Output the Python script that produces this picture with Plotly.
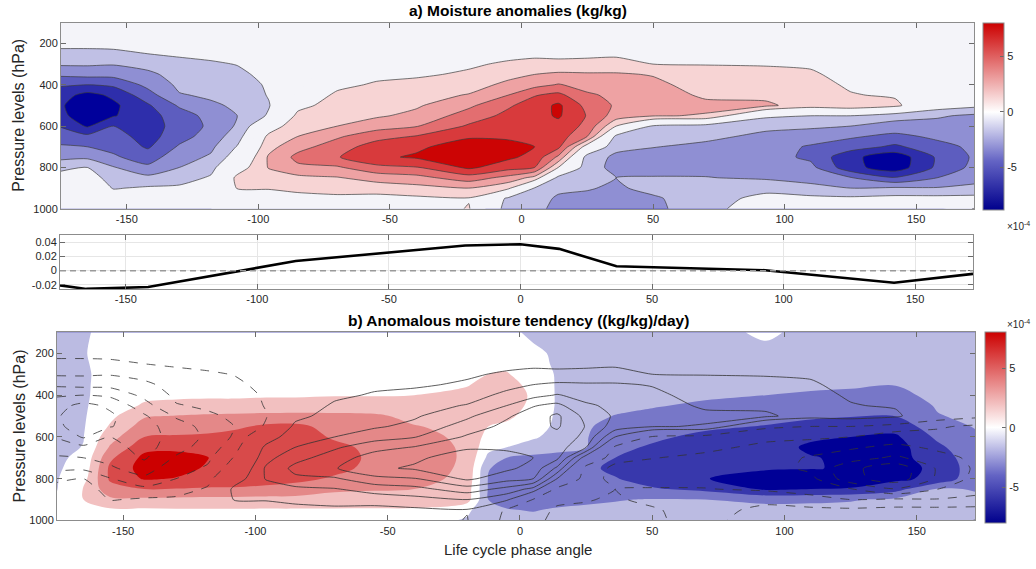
import plotly.graph_objects as go

W, H = 1036, 569

# ---------------- data ----------------
PRESSURE = [100, 200, 250, 300, 350, 400, 450, 500, 550, 600, 650, 700, 750, 800, 850, 900, 950, 1000]

# (a) moisture anomaly, units 1e-4 kg/kg; one column (profile over PRESSURE) per phase angle
PHASE_A = [-175, -165, -155, -142, -130, -118, -108, -96, -85, -70, -55, -40, -20, -5, 5, 14, 25, 36, 50, 70, 93, 110, 125, 142, 158, 172]
qa_m175 = [-0.3, -1.1, -1.9, -2.8, -4.2, -5.8, -6.9, -7.3, -7.1, -6.1, -5.3, -4.3, -3.4, -1.9, -0.8, -0.2, 0.0, -0.6]
qa_m165 = [-0.3, -1.1, -1.9, -2.8, -4.0, -6.0, -8.0, -8.7, -8.5, -7.7, -5.6, -4.5, -3.3, -1.5, -0.7, -0.2, 0.0, -0.5]
qa_m155 = [-0.3, -1.1, -1.8, -2.9, -4.0, -5.7, -7.2, -7.8, -7.6, -6.0, -5.4, -4.9, -4.3, -2.9, -2.2, -1.6, -0.6, -0.3]
qa_m142 = [-0.2, -0.9, -1.5, -2.4, -3.4, -4.1, -5.1, -6.2, -6.6, -6.7, -6.6, -6.2, -5.2, -4.2, -2.6, -1.3, -0.5, -0.2]
qa_m130 = [-0.2, -0.8, -1.3, -1.9, -2.3, -2.7, -3.1, -4.3, -5.2, -5.4, -5.1, -4.3, -3.6, -3.0, -2.2, -1.2, -0.4, -0.1]
qa_m118 = [-0.1, -0.6, -1.1, -1.7, -2.1, -2.4, -2.8, -3.2, -4.0, -4.2, -3.8, -3.3, -2.8, -2.0, -1.3, -0.8, -0.3, 0.0]
qa_m108 = [0.0, -0.4, -0.9, -1.45, -1.8, -2.2, -2.5, -2.8, -3.0, -2.8, -2.2, -1.4, -0.6, 0.6, 1.9, 1.6, 0.4, 0.1]
qa_m96 = [0.0, -0.2, -0.5, -0.9, -1.1, -1.3, -1.4, -1.6, -1.3, 0.5, 1.9, 2.5, 3.2, 3.1, 2.3, 1.6, 0.8, 0.3]
qa_m85 = [0.0, 0.0, -0.1, -0.3, -0.4, -0.3, 0.2, 1.0, 1.9, 2.6, 3.0, 4.0, 4.9, 4.2, 2.6, 1.8, 1.1, 0.4]
qa_m70 = [0.0, 0.1, 0.2, 0.4, 0.6, 1.1, 1.8, 2.2, 2.6, 3.0, 4.3, 5.2, 5.9, 4.3, 2.9, 2.0, 1.2, 0.5]
qa_m55 = [0.0, 0.2, 0.4, 0.7, 1.1, 1.7, 2.0, 2.4, 2.8, 3.9, 5.4, 6.8, 7.2, 5.6, 3.6, 2.2, 1.0, 0.4]
qa_m40 = [0.0, 0.3, 0.5, 0.9, 1.3, 1.9, 2.4, 2.8, 3.4, 4.4, 6.1, 7.2, 7.7, 5.9, 4.0, 2.5, 1.2, 0.5]
qa_m20 = [0.1, 0.5, 0.9, 1.3, 1.7, 2.3, 3.1, 4.2, 5.2, 6.2, 7.3, 8.3, 8.5, 7.8, 5.3, 3.0, 1.4, 1.6]
qa_m5 = [0.1, 0.6, 1.1, 1.7, 2.5, 3.4, 4.5, 5.8, 6.4, 6.9, 7.3, 7.9, 7.8, 6.6, 4.0, 1.8, -1.8, -2.2]
qa_p5 = [0.1, 0.7, 1.2, 1.9, 3.0, 4.0, 5.9, 6.7, 6.9, 7.0, 7.2, 7.5, 7.0, 6.0, 2.5, -1.6, -2.4, -2.6]
qa_p14 = [0.1, 0.7, 1.2, 1.8, 3.3, 4.6, 6.4, 7.8, 7.7, 7.0, 6.8, 6.4, 4.2, 1.5, -2.0, -2.7, -3.2, -3.4]
qa_p25 = [0.1, 0.7, 1.2, 1.9, 3.2, 4.0, 4.7, 5.5, 5.9, 5.6, 4.5, 0.6, -2.2, -2.4, -2.6, -2.9, -3.3, -3.5]
qa_p36 = [0.1, 0.8, 1.3, 1.9, 3.2, 3.9, 4.2, 4.3, 3.8, 1.5, -1.9, -2.6, -3.3, -3.4, -3.0, -3.2, -3.5, -3.6]
qa_p50 = [0.1, 0.8, 1.3, 1.5, 2.9, 3.4, 3.6, 3.5, 3.1, -1.7, -2.5, -2.95, -3.5, -3.6, -2.9, -2.6, -3.2, -3.4]
qa_p70 = [0.1, 0.8, 1.3, 1.45, 2.0, 2.3, 2.8, 3.3, 2.9, -2.2, -2.7, -3.3, -3.5, -3.4, -2.95, -2.5, -2.2, -2.0]
qa_p93 = [0.1, 0.7, 1.1, 1.4, 1.9, 2.2, 2.6, 3.3, -1.2, -2.7, -3.3, -3.7, -3.9, -3.7, -3.2, -2.0, -1.0, -0.6]
qa_p110 = [0.1, 0.6, 1.0, 1.3, 1.7, 2.0, 2.2, 2.2, -1.5, -2.8, -3.6, -4.7, -4.8, -4.1, -3.5, -2.6, -1.1, -0.5]
qa_p125 = [0.0, 0.3, 0.5, 0.8, 1.0, 1.3, 1.6, 2.6, -1.5, -3.0, -4.3, -5.3, -7.1, -7.0, -4.4, -3.0, -1.2, -0.5]
qa_p142 = [0.0, 0.2, 0.3, 0.5, 0.7, 1.0, 1.3, 1.9, -2.4, -3.6, -4.9, -6.3, -8.5, -8.4, -5.9, -2.8, -1.0, -0.4]
qa_p158 = [0.0, 0.1, 0.2, 0.3, 0.4, 0.5, 0.3, -0.6, -2.8, -3.6, -4.2, -5.0, -5.8, -5.7, -4.5, -2.9, -1.0, -0.3]
qa_p172 = [0.0, 0.1, 0.1, 0.2, 0.3, 0.3, 0.1, -1.1, -3.3, -3.6, -3.9, -4.2, -4.3, -4.1, -3.6, -2.6, -1.0, 1.6]

# (b) anomalous moisture tendency, units 1e-4 (kg/kg)/day
PHASE_B = [-175, -165, -155, -142, -130, -118, -108, -96, -85, -70, -55, -40, -20, -12, -5, 5, 14, 25, 36, 50, 70, 93, 110, 125, 142, 158, 172]
tb_m175 = [-1.8, -1.9, -1.9, -1.8, -1.8, -1.8, -1.8, -1.7, -1.6, -1.5, -1.4, -1.3, -1.2, -1.1, -1.05, -0.8, -0.5, -0.3]
tb_m165 = [-1.2, -1.1, -1.2, -1.3, -1.3, -1.3, -1.25, -1.2, -1.15, -1.05, -0.95, -0.6, -0.3, 0.3, 1.1, 1.0, 0.3, 0.0]
tb_m155 = [-0.5, -0.4, -0.3, -0.3, -0.2, -0.1, 0.1, 0.5, 1.2, 2.2, 3.2, 4.6, 5.4, 5.3, 4.2, 2.6, 0.7, 0.2]
tb_m142 = [-0.2, -0.2, -0.1, 0.0, 0.2, 0.6, 1.2, 2.8, 3.9, 5.0, 6.4, 7.5, 7.8, 7.2, 5.0, 2.6, 0.7, 0.2]
tb_m130 = [-0.1, -0.1, 0.0, 0.1, 0.3, 0.7, 1.4, 3.1, 4.1, 5.2, 6.6, 7.6, 7.6, 6.9, 4.9, 2.5, 0.8, 0.2]
tb_m118 = [-0.1, 0.0, 0.0, 0.1, 0.3, 0.7, 1.6, 3.3, 4.2, 5.4, 6.3, 7.05, 6.8, 6.0, 4.8, 2.4, 0.8, 0.2]
tb_m108 = [0.0, 0.0, 0.0, 0.1, 0.3, 0.7, 1.6, 3.4, 4.6, 5.8, 6.2, 6.3, 6.2, 5.9, 4.8, 2.4, 0.8, 0.2]
tb_m96 = [0.0, 0.0, 0.0, 0.1, 0.3, 0.8, 1.7, 3.5, 5.4, 5.9, 6.1, 6.2, 6.1, 5.7, 4.6, 2.3, 0.8, 0.2]
tb_m85 = [0.0, 0.0, 0.0, 0.1, 0.3, 0.8, 1.7, 3.6, 5.5, 5.8, 6.0, 6.0, 5.9, 5.4, 4.4, 2.3, 0.8, 0.2]
tb_m70 = [0.0, 0.0, 0.0, 0.1, 0.3, 0.9, 1.8, 3.5, 4.3, 4.8, 5.4, 5.6, 5.4, 4.8, 3.4, 2.1, 0.8, 0.2]
tb_m55 = [0.0, 0.0, 0.0, 0.1, 0.3, 0.9, 1.9, 3.3, 3.9, 4.3, 4.6, 4.7, 4.6, 4.2, 3.2, 2.0, 0.8, 0.2]
tb_m40 = [0.0, 0.0, 0.1, 0.2, 0.4, 1.0, 1.8, 2.5, 3.1, 3.6, 4.0, 4.2, 4.1, 3.8, 3.0, 1.9, 0.8, 0.2]
tb_m20 = [0.0, 0.0, 0.2, 0.5, 0.9, 1.4, 1.8, 2.2, 2.5, 2.6, 2.7, 2.7, 2.6, 2.4, 2.0, 1.8, -0.5, -1.3]
tb_m12 = [-0.2, 0.2, 0.5, 1.0, 1.5, 1.8, 1.8, 1.6, 1.0, 0.3, -0.4, -1.5, -2.9, -3.1, -3.1, -3.0, -2.7, -2.2]
tb_m5 = [-0.5, 0.3, 0.7, 1.1, 1.5, 1.7, 1.6, 1.3, 0.7, -0.3, -1.0, -3.0, -3.6, -3.8, -3.8, -3.6, -2.9, -2.3]
tb_p5 = [-1.4, -0.6, -0.3, 0.3, 0.6, 0.8, 0.7, 0.4, 0.1, -0.7, -2.0, -3.4, -3.9, -4.1, -4.0, -3.7, -3.1, -2.5]
tb_p14 = [-1.6, -1.3, -1.3, -1.2, -1.2, -1.2, -1.2, -1.3, -1.5, -1.8, -2.6, -3.4, -3.9, -4.2, -4.1, -3.6, -2.8, -2.2]
tb_p25 = [-1.7, -1.5, -1.5, -1.5, -1.5, -1.6, -1.8, -2.2, -2.8, -2.9, -2.95, -3.5, -4.6, -4.5, -4.0, -3.3, -2.7, -2.2]
tb_p36 = [-1.8, -1.6, -1.6, -1.6, -1.7, -1.9, -2.3, -3.1, -3.6, -4.1, -4.6, -5.0, -5.4, -4.9, -4.0, -3.1, -2.6, -2.2]
tb_p50 = [-1.8, -1.7, -1.7, -1.8, -1.9, -2.2, -2.8, -3.6, -4.2, -4.7, -5.2, -5.8, -6.2, -5.8, -4.8, -2.9, -2.4, -2.1]
tb_p70 = [-1.8, -1.8, -1.8, -1.9, -2.1, -2.6, -3.4, -4.1, -4.7, -5.4, -5.9, -6.3, -6.7, -6.95, -5.5, -3.0, -2.0, -1.6]
tb_p93 = [-0.6, -1.6, -1.9, -2.1, -2.5, -3.0, -3.7, -4.4, -5.1, -5.7, -6.2, -6.5, -6.85, -7.6, -7.3, -3.5, -2.3, -1.6]
tb_p110 = [-1.7, -1.9, -2.0, -2.3, -2.7, -3.2, -3.9, -4.7, -5.6, -6.7, -7.3, -6.9, -6.95, -7.6, -7.0, -3.4, -2.3, -1.7]
tb_p125 = [-1.8, -2.0, -2.1, -2.4, -2.8, -3.3, -4.1, -4.9, -5.9, -7.0, -7.6, -7.3, -7.1, -7.7, -6.9, -3.2, -2.2, -1.7]
tb_p142 = [-1.8, -2.0, -2.2, -2.5, -2.95, -3.5, -4.3, -4.95, -6.2, -7.3, -7.8, -7.6, -7.5, -7.4, -5.8, -2.6, -2.0, -1.6]
tb_p158 = [-1.7, -1.8, -1.9, -2.0, -2.2, -2.5, -2.8, -3.1, -3.8, -4.6, -5.4, -6.1, -6.7, -6.5, -2.8, -2.2, -1.8, -1.5]
tb_p172 = [-1.6, -1.7, -1.8, -1.9, -2.0, -2.2, -2.4, -2.6, -2.9, -3.3, -3.6, -3.8, -3.8, -3.6, -3.1, -2.7, -2.3, -1.9]

# middle panel: vertically integrated index
MID_PHASE = [-175, -165, -141.5, -85.4, -21, 0, 14.7, 36.5, 93, 142, 172]
MID_VALUE = [-0.021, -0.026, -0.0233, 0.0136, 0.0358, 0.0376, 0.031, 0.0062, 0.0006, -0.0173, -0.0046]

X_TICKS = [-150, -100, -50, 0, 50, 100, 150]
X_TICKTEXT = ['-150', '-100', '-50', '0', '50', '100', '150']
P_TICKS = [200, 400, 600, 800, 1000]
MID_TICKS = [-0.02, 0, 0.02, 0.04]
MID_TICKTEXT = ['-0.02', '0', '0.02', '0.04']
CB_TICKS = [-5, 0, 5]
CB_TICKTEXT = ['-5', '0', '5']

QA_COLS = [qa_m175, qa_m165, qa_m155, qa_m142, qa_m130, qa_m118, qa_m108, qa_m96, qa_m85, qa_m70,
           qa_m55, qa_m40, qa_m20, qa_m5, qa_p5, qa_p14, qa_p25, qa_p36, qa_p50, qa_p70, qa_p93,
           qa_p110, qa_p125, qa_p142, qa_p158, qa_p172]
TB_COLS = [tb_m175, tb_m165, tb_m155, tb_m142, tb_m130, tb_m118, tb_m108, tb_m96, tb_m85, tb_m70,
           tb_m55, tb_m40, tb_m20, tb_m12, tb_m5, tb_p5, tb_p14, tb_p25, tb_p36, tb_p50, tb_p70,
           tb_p93, tb_p110, tb_p125, tb_p142, tb_p158, tb_p172]
ZA = [list(r) for r in zip(*QA_COLS)]
ZB = [list(r) for r in zip(*TB_COLS)]

# ---------------- styling ----------------
FONT = 'Arial, Liberation Sans, Helvetica, sans-serif'
TXT = '#262626'
BOX = '#8c8c8c'

A_BANDS = ['#00009b', '#2e2eab', '#5d5dbf', '#8f8fd3', '#c0c0e5', '#f4f4f9', '#f4f4f9',
           '#f7d4d4', '#eea2a3', '#e36e70', '#d83a3c', '#cc0404']
B_BANDS = ['#000096', '#3838ac', '#7777c8', '#bbbbe2', '#ffffff', '#f2c0c0', '#e48888', '#d84a4a', '#cc0000']


def band_scale(cols):
    n = len(cols) - 1
    return [[i / n, c] for i, c in enumerate(cols)]


def cont_scale(vmin, vmax):
    stops = [(vmin, 'rgb(0,0,140)'), (vmin / 2, 'rgb(100,100,196)'), (0, 'rgb(255,255,255)'),
             (vmax / 2, 'rgb(230,128,128)'), (vmax, 'rgb(204,0,0)')]
    return [[(v - vmin) / (vmax - vmin), c] for v, c in stops]


fig = go.Figure()

# panel a fill
fig.add_trace(go.Contour(x=PHASE_A, y=PRESSURE, z=ZA, xaxis='x', yaxis='y', autocontour=False,
                         contours=dict(start=-7.5, end=7.5, size=1.5, coloring='fill', showlines=False),
                         colorscale=band_scale(A_BANDS), showscale=False, line=dict(width=0, smoothing=0.6),
                         hoverinfo='skip'))
for s, e in [(-7.5, -1.5), (1.5, 7.5)]:
    fig.add_trace(go.Contour(x=PHASE_A, y=PRESSURE, z=ZA, xaxis='x', yaxis='y', autocontour=False,
                             contours=dict(start=s, end=e, size=1.5, coloring='none'),
                             line=dict(color='#3c3c3c', width=0.7, smoothing=0.6), showscale=False,
                             hoverinfo='skip'))

# middle line
fig.add_trace(go.Scatter(x=MID_PHASE, y=MID_VALUE, mode='lines', xaxis='x2', yaxis='y2',
                         line=dict(color='black', width=2.6), hoverinfo='skip', showlegend=False))

# panel b fill
fig.add_trace(go.Contour(x=PHASE_B, y=PRESSURE, z=ZB, xaxis='x3', yaxis='y3', autocontour=False,
                         contours=dict(start=-7, end=7, size=2, coloring='fill', showlines=False),
                         colorscale=band_scale(B_BANDS), showscale=False, line=dict(width=0, smoothing=1),
                         hoverinfo='skip'))
for s, e, d in [(-7.5, -1.5, 'dash'), (1.5, 7.5, 'solid')]:
    fig.add_trace(go.Contour(x=PHASE_A, y=PRESSURE, z=ZA, xaxis='x3', yaxis='y3', autocontour=False,
                             contours=dict(start=s, end=e, size=1.5, coloring='none'),
                             line=dict(color='#333333', width=0.8, smoothing=0.6, dash=d), showscale=False,
                             hoverinfo='skip'))

# colorbars via invisible markers
for ax, ay, vmin, vmax, ytop, ybot, xl in [('x', 'y', -8.8, 8.0, 24, 211, 983), ('x3', 'y3', -8.0, 8.0, 337, 528, 985)]:
    fig.add_trace(go.Scatter(x=[-1000], y=[500], mode='markers', xaxis=ax, yaxis=ay, hoverinfo='skip',
                             showlegend=False,
                             marker=dict(size=1, opacity=0, color=[0], cmin=vmin, cmax=vmax,
                                         colorscale=cont_scale(vmin, vmax), showscale=True,
                                         colorbar=dict(thickness=21, thicknessmode='pixels',
                                                       len=ybot - ytop, lenmode='pixels',
                                                       x=xl / W, xanchor='left', xpad=0,
                                                       y=1 - (ytop + ybot) / 2 / H, yanchor='middle', ypad=0,
                                                       outlinewidth=1, outlinecolor=BOX,
                                                       tickvals=CB_TICKS, ticktext=CB_TICKTEXT,
                                                       ticks='inside', ticklen=4, tickcolor='#6a6a6a',
                                                       tickfont=dict(family=FONT, size=11, color=TXT)))))

common = dict(showline=True, linecolor=BOX, linewidth=1, mirror='ticks', ticks='inside', ticklen=5,
              tickcolor='#6a6a6a', tickfont=dict(family=FONT, size=11, color=TXT), zeroline=False)
xcommon = dict(range=[-175, 172], tickvals=X_TICKS, ticktext=X_TICKTEXT, **common)

fig.update_layout(
    width=W, height=H, margin=dict(l=0, r=0, t=0, b=0), paper_bgcolor='white', plot_bgcolor='white',
    showlegend=False,
    xaxis=dict(domain=[61 / W, 974 / W], anchor='y', showgrid=False, **xcommon),
    yaxis=dict(domain=[1 - 211 / H, 1 - 23 / H], range=[1000, 100], tickvals=P_TICKS, anchor='x', showgrid=False, **common),
    xaxis2=dict(domain=[60 / W, 973 / W], anchor='y2', showgrid=True, gridcolor='#e6e6e6', **xcommon),
    yaxis2=dict(domain=[1 - 292 / H, 1 - 238 / H], range=[-0.026, 0.05], tickvals=MID_TICKS, ticktext=MID_TICKTEXT,
                anchor='x2', showgrid=True, gridcolor='#e6e6e6', **common),
    xaxis3=dict(domain=[57 / W, 975 / W], anchor='y3', showgrid=False, **xcommon),
    yaxis3=dict(domain=[1 - 526 / H, 1 - 336 / H], range=[1000, 100], tickvals=P_TICKS, anchor='x3', showgrid=False, **common),
)

fig.add_shape(type='line', xref='x2 domain', x0=0, x1=1, yref='y2', y0=0, y1=0,
              line=dict(color='#9a9a9a', width=1.5, dash='6px,4px'))

ann = [
    dict(text='<b>a) Moisture anomalies (kg/kg)</b>', x=518 / W, y=1 - 11 / H, size=15.5, color='black'),
    dict(text='<b>b) Anomalous moisture tendency ((kg/kg)/day)</b>', x=518 / W, y=1 - 324 / H, size=15.5, color='black'),
    dict(text='Life cycle phase angle', x=518 / W, y=1 - 555 / H, size=15, color=TXT),
]
for a in ann:
    fig.add_annotation(text=a['text'], x=a['x'], y=a['y'], xref='paper', yref='paper', showarrow=False,
                       xanchor='center', yanchor='middle', font=dict(family=FONT, size=a['size'], color=a['color']))
for yc in [117, 431]:
    fig.add_annotation(text='Pressure levels (hPa)', x=19 / W, y=1 - yc / H, xref='paper', yref='paper',
                       showarrow=False, textangle=-90, xanchor='center', yanchor='middle',
                       font=dict(family=FONT, size=16, color=TXT))
for yc in [228, 327]:
    fig.add_annotation(text='×10<sup>-4</sup>', x=1031 / W, y=1 - yc / H, xref='paper', yref='paper',
                       showarrow=False, xanchor='right', yanchor='middle', borderpad=0,
                       font=dict(family=FONT, size=10, color=TXT))

fig.write_html('out.html', config={'displayModeBar': False},
               post_script="document.body.style.margin='0px';document.body.style.overflow='hidden';")
